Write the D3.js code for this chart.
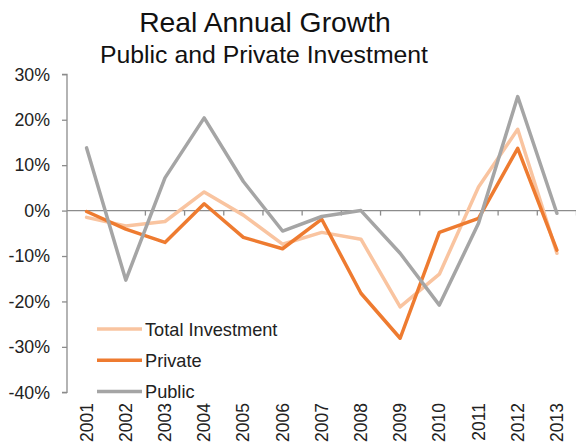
<!DOCTYPE html>
<html>
<head>
<meta charset="utf-8">
<script src="https://cdn.jsdelivr.net/npm/d3@7"></script>
<style>
  html, body { margin: 0; padding: 0; background: #fff; }
  svg { display: block; font-family: "Liberation Sans", Arial, sans-serif; }
</style>
</head>
<body>
<svg id="chart" width="576" height="446"></svg>
<script>
// Real annual growth (%) of investment, 2001–2013
const years = ["2001","2002","2003","2004","2005","2006","2007","2008","2009","2010","2011","2012","2013"];
const totalInvestment = [-1.5, -3.4, -2.4, 4.1, -1.0, -7.4, -4.8, -6.3, -21.2, -14.0, 5.2, 17.9, -9.4];
const privateInvestment = [-0.2, -4.1, -7.0, 1.5, -5.9, -8.4, -1.9, -18.2, -28.1, -4.8, -1.7, 13.7, -8.7];
const publicInvestment = [13.8, -15.3, 7.2, 20.4, 6.4, -4.5, -1.3, 0.0, -9.4, -20.8, -2.8, 25.1, -0.6];
const yTicks = [30, 20, 10, 0, -10, -20, -30, -40];

const seriesNames = ["Total Investment", "Private", "Public"];
const seriesValues = [totalInvestment, privateInvestment, publicInvestment];
const seriesColors = ["#F9C4A0", "#EE7B30", "#A5A5A5"];

const svg = d3.select("#chart");
const axisColor = "#8C8C8C";

const x = d3.scaleBand().domain(years).range([67, 576.5]).padding(0);
const y = d3.scaleLinear().domain([-40, 30]).range([392.3, 74.3]);

// Titles
svg.append("text").attr("x", 265).attr("y", 32).attr("text-anchor", "middle")
  .attr("font-size", 28.3).attr("fill", "#111").text("Real Annual Growth");
svg.append("text").attr("x", 264).attr("y", 63).attr("text-anchor", "middle")
  .attr("font-size", 24.8).attr("fill", "#111").text("Public and Private Investment");

// Y axis
const yAxis = d3.axisLeft(y).tickValues(yTicks).tickSize(5).tickPadding(12)
  .tickFormat(d => d + "%");
const gy = svg.append("g").attr("transform", "translate(67,0)").call(yAxis);
gy.select(".domain").attr("stroke", axisColor).attr("stroke-width", 1.3).attr("d", `M-5,${y(30)}H0V${y(-40)}H-5`);
gy.selectAll(".tick line").attr("stroke", axisColor).attr("stroke-width", 1.3);
gy.selectAll(".tick text").attr("font-size", 17.8).attr("fill", "#222")
  .attr("font-family", "'Liberation Sans', Arial, sans-serif");

// Zero line with category boundary ticks
const zeroY = y(0);
svg.append("line").attr("x1", 67).attr("x2", 576.5).attr("y1", zeroY).attr("y2", zeroY)
  .attr("stroke", axisColor).attr("stroke-width", 1.3);
const boundaries = years.map(d => x(d) + x.bandwidth());
svg.append("g").selectAll("line").data(boundaries).join("line")
  .attr("x1", d => d).attr("x2", d => d)
  .attr("y1", zeroY).attr("y2", zeroY + 5)
  .attr("stroke", axisColor).attr("stroke-width", 1.3);

// Year labels, rotated
svg.append("g").selectAll("text").data(years).join("text")
  .attr("transform", d => `translate(${x(d) + x.bandwidth() / 2},403) rotate(-90)`)
  .attr("text-anchor", "end").attr("dy", "0.35em")
  .attr("font-size", 17.5).attr("fill", "#222").text(d => d);

// Series lines
const line = d3.line()
  .x((d, i) => x(years[i]) + x.bandwidth() / 2)
  .y(d => y(d));

svg.append("g").selectAll("path").data(seriesValues).join("path")
  .attr("d", d => line(d))
  .attr("fill", "none")
  .attr("stroke", (d, i) => seriesColors[i])
  .attr("stroke-width", 3.5)
  .attr("stroke-linejoin", "round")
  .attr("stroke-linecap", "round");

// Legend
const legend = svg.append("g").selectAll("g").data(seriesNames).join("g")
  .attr("transform", (d, i) => `translate(97,${329 + i * 31.3})`);
legend.append("line").attr("x1", 0).attr("x2", 45).attr("y1", 0).attr("y2", 0)
  .attr("stroke", (d, i) => seriesColors[i]).attr("stroke-width", 3.5);
legend.append("text").attr("x", 48).attr("y", 0).attr("dy", "0.36em")
  .attr("font-size", 18.2).attr("fill", "#222").text(d => d);
</script>
</body>
</html>
